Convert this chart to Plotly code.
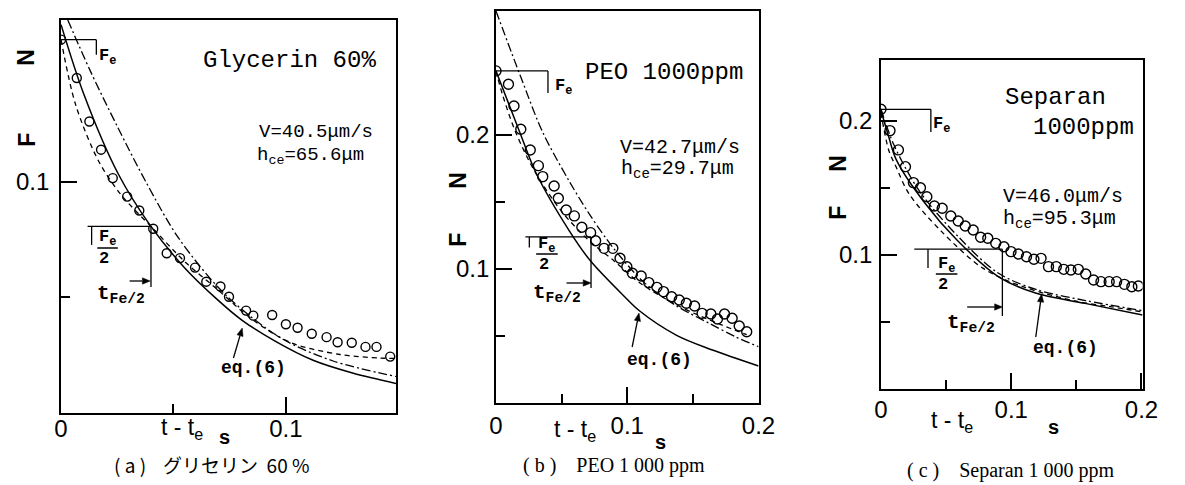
import math
import plotly.graph_objects as go

# The page body has an 8px margin, so the figure is drawn 8px in from the corner.
OX, OY = 8, 8
FW, FH = 1177, 477

# ---------------- data ----------------
# (a) Glycerin 60 %
a_t = [0.0, 0.0070, 0.0126, 0.0178, 0.0230, 0.0294, 0.0348, 0.0410, 0.0470, 0.0529,
       0.0596, 0.0646, 0.0709, 0.0747, 0.0823, 0.0855, 0.0939, 0.1000, 0.1052, 0.1115,
       0.1181, 0.1230, 0.1293, 0.1354, 0.1403, 0.1464]
a_F = [0.1615, 0.1449, 0.1261, 0.1139, 0.1016, 0.0936, 0.0876, 0.0797, 0.0691, 0.0670,
       0.0629, 0.0568, 0.0547, 0.0503, 0.0443, 0.0421, 0.0424, 0.0384, 0.0369, 0.0343,
       0.0328, 0.0306, 0.0304, 0.0286, 0.0286, 0.0244]
a_eq6_t = [0.0, 0.0101, 0.0254, 0.0395, 0.0545, 0.0688, 0.0804, 0.0950, 0.1121, 0.1300, 0.149]
a_eq6_F = [0.168, 0.1380, 0.1035, 0.0814, 0.0633, 0.0497, 0.0402, 0.0312, 0.0228, 0.0172, 0.0128]
a_dd_t = [0.003, 0.0130, 0.0250, 0.0380, 0.0524, 0.0732, 0.0977, 0.1210, 0.1490]
a_dd_F = [0.170, 0.1480, 0.1240, 0.0995, 0.0755, 0.0511, 0.0325, 0.0225, 0.0158]
a_da_t = [0.0, 0.0065, 0.0168, 0.0267, 0.0410, 0.0550, 0.0689, 0.0850, 0.1020, 0.1240, 0.1416, 0.1490]
a_da_F = [0.1615, 0.1333, 0.1088, 0.0944, 0.0797, 0.0655, 0.0540, 0.0405, 0.0305, 0.0253, 0.0238, 0.0236]

# (b) PEO 1000 ppm
b_t = [0.0, 0.0095, 0.0137, 0.0189, 0.0261, 0.0323, 0.0356, 0.0443, 0.0475, 0.0535,
       0.0597, 0.0654, 0.0721, 0.0759, 0.0823, 0.0890, 0.0945, 0.0997, 0.1039, 0.1106,
       0.1164, 0.1226, 0.1276, 0.1338, 0.1396, 0.1450, 0.1513, 0.1570, 0.1637, 0.1687,
       0.1741, 0.1799, 0.1853, 0.1910]
b_F = [0.2478, 0.2378, 0.2216, 0.2043, 0.1888, 0.1771, 0.1689, 0.1619, 0.1528, 0.1440,
       0.1396, 0.1311, 0.1271, 0.1211, 0.1154, 0.1154, 0.1080, 0.1017, 0.0968, 0.0948,
       0.0898, 0.0863, 0.0831, 0.0793, 0.0769, 0.0744, 0.0724, 0.0669, 0.0664, 0.0627,
       0.0664, 0.0632, 0.0575, 0.0532]
b_eq6_t = [0.0, 0.0181, 0.0306, 0.0555, 0.0716, 0.0978, 0.1090, 0.1376, 0.1650, 0.2000]
b_eq6_F = [0.2478, 0.2020, 0.1714, 0.1290, 0.1065, 0.0795, 0.0690, 0.0505, 0.0395, 0.0276]
b_dd_t = [0.0, 0.0207, 0.0356, 0.0555, 0.0704, 0.0841, 0.0928, 0.1127, 0.1375, 0.1624, 0.1823, 0.2000]
b_dd_F = [0.2925, 0.2386, 0.2020, 0.1660, 0.1420, 0.1225, 0.1115, 0.0900, 0.0725, 0.0595, 0.0495, 0.0420]
b_da_t = [0.0, 0.0050, 0.0150, 0.0300, 0.0500, 0.0700, 0.0900, 0.1100, 0.1400, 0.1700, 0.1910]
b_da_F = [0.2478, 0.2300, 0.2020, 0.1720, 0.1430, 0.1220, 0.1060, 0.0893, 0.0720, 0.0590, 0.0510]

# (c) Separan 1000 ppm
c_t = [0.0, 0.0069, 0.0134, 0.0188, 0.0249, 0.0303, 0.0352, 0.0410, 0.0470, 0.0536,
       0.0593, 0.0647, 0.0708, 0.0765, 0.0820, 0.0881, 0.0944, 0.0998, 0.1055, 0.1117,
       0.1174, 0.1229, 0.1286, 0.1346, 0.1403, 0.1458, 0.1515, 0.1572, 0.1632, 0.1689,
       0.1752, 0.1809, 0.1869, 0.1926, 0.1976]
c_F = [0.2087, 0.1928, 0.1784, 0.1659, 0.1540, 0.1502, 0.1435, 0.1366, 0.1349, 0.1291,
       0.1254, 0.1216, 0.1187, 0.1132, 0.1125, 0.1087, 0.1062, 0.1025, 0.1007, 0.0987,
       0.0968, 0.0975, 0.0913, 0.0913, 0.0893, 0.0888, 0.0893, 0.0858, 0.0813, 0.0801,
       0.0801, 0.0801, 0.0781, 0.0763, 0.0769]
c_eq6_t = [0.0, 0.0060, 0.0118, 0.0338, 0.0585, 0.0906, 0.1192, 0.1567, 0.2008]
c_eq6_F = [0.208, 0.188, 0.171, 0.1386, 0.1110, 0.0835, 0.0714, 0.0639, 0.0552]
c_dd_t = [0.0, 0.0100, 0.0300, 0.0600, 0.0900, 0.1200, 0.1570, 0.2008]
c_dd_F = [0.209, 0.182, 0.147, 0.113, 0.0865, 0.0740, 0.0660, 0.0585]
c_da_t = [0.0, 0.0060, 0.0115, 0.0213, 0.0460, 0.0785, 0.1100, 0.1500, 0.1760, 0.2008]
c_da_F = [0.206, 0.178, 0.166, 0.146, 0.118, 0.0900, 0.0760, 0.0655, 0.0615, 0.0575]

# labels
labels = {
    "a": dict(title="Glycerin 60%", V="V=40.5μm/s", h="h<sub>ce</sub>=65.6μm",
              caption="( a )    グリセリン  60 %"),
    "b": dict(title="PEO 1000ppm", V="V=42.7μm/s", h="h<sub>ce</sub>=29.7μm",
              caption="( b )    PEO 1 000 ppm"),
    "c": dict(title="Separan", title2="1000ppm", V="V=46.0μm/s", h="h<sub>ce</sub>=95.3μm",
              caption="( c )    Separan 1 000 ppm"),
}

MONO = "Liberation Mono"
SANS = "Liberation Sans"
SERIF = "Liberation Serif"
BLK = "black"


def P(px, py):
    return (px - OX) / FW, 1 - (py - OY) / FH


def xdom(p0, p1):
    return [(p0 - OX) / FW, (p1 - OX) / FW]


def ydom(pb, pt):
    return [1 - (pb - OY) / FH, 1 - (pt - OY) / FH]


fig = go.Figure()

panels = [
    ("x", "y", a_t, a_F, a_eq6_t, a_eq6_F, a_dd_t, a_dd_F, a_da_t, a_da_F, 9),
    ("x2", "y2", b_t, b_F, b_eq6_t, b_eq6_F, b_dd_t, b_dd_F, b_da_t, b_da_F, 10),
    ("x3", "y3", c_t, c_F, c_eq6_t, c_eq6_F, c_dd_t, c_dd_F, c_da_t, c_da_F, 10),
]
for xr, yr, t, F, et, eF, dt, dF, st, sF, ms in panels:
    fig.add_trace(go.Scatter(x=st, y=sF, xaxis=xr, yaxis=yr, mode="lines",
                             line=dict(color=BLK, width=1.3, dash="5px,4px", shape="spline", smoothing=0.9),
                             showlegend=False, hoverinfo="skip"))
    fig.add_trace(go.Scatter(x=dt, y=dF, xaxis=xr, yaxis=yr, mode="lines",
                             line=dict(color=BLK, width=1.3, dash="9px,3px,2px,3px", shape="spline", smoothing=0.9),
                             showlegend=False, hoverinfo="skip"))
    fig.add_trace(go.Scatter(x=et, y=eF, xaxis=xr, yaxis=yr, mode="lines",
                             line=dict(color=BLK, width=1.5, shape="spline", smoothing=0.9),
                             showlegend=False, hoverinfo="skip"))
    fig.add_trace(go.Scatter(x=t, y=F, xaxis=xr, yaxis=yr, mode="markers",
                             marker=dict(symbol="circle-open", size=ms, color=BLK, line=dict(width=1.4, color=BLK)),
                             showlegend=False, hoverinfo="skip"))


def axis(domain, rng, tickvals, ticktext, minor, standoff, anchor):
    return dict(domain=domain, range=rng, anchor=anchor, showline=True, mirror=True,
                linecolor=BLK, linewidth=1.8, showgrid=False, zeroline=False,
                ticks="inside", ticklen=16, tickwidth=1.5, tickcolor=BLK,
                tickmode="array", tickvals=tickvals, ticktext=ticktext,
                tickfont=dict(family=SANS, size=24, color=BLK),
                ticklabelstandoff=standoff,
                minor=dict(tickmode="array", tickvals=minor, ticks="inside", ticklen=9,
                           tickwidth=1.5, tickcolor=BLK, showgrid=False))


fig.update_layout(
    width=FW, height=FH, margin=dict(l=0, r=0, t=0, b=0),
    paper_bgcolor="white", plot_bgcolor="white",
    xaxis=axis(xdom(55, 397), [0, 0.149], [0, 0.1], ["0", "0.1"], [0.05], -7, "y"),
    yaxis=axis(ydom(413, 20), [0, 0.170], [0.1], ["0.1"], [0.05], 5, "x"),
    xaxis2=axis(xdom(499, 767), [0, 0.2], [0, 0.1, 0.2], ["0", "0.1", "0.2"], [0.05, 0.15], 0, "y2"),
    yaxis2=axis(ydom(403, 11), [0, 0.2925], [0.1, 0.2], ["0.1", "0.2"], [0.05, 0.15], 0, "x2"),
    xaxis3=axis(xdom(892, 1159), [0, 0.2008], [0, 0.1, 0.2], ["0", "0.1", "0.2"], [0.05, 0.15], -2, "y3"),
    yaxis3=axis(ydom(389, 60), [0, 0.2455], [0.1, 0.2], ["0.1", "0.2"], [0.05, 0.15], 2, "x3"),
)

shapes = []
annots = []


def seg(xr, yr, x0, y0, x1, y1, w=1.3):
    shapes.append(dict(type="line", xref=xr, yref=yr, x0=x0, y0=y0, x1=x1, y1=y1,
                       line=dict(color=BLK, width=w)))


def parrow(tx, ty, hx, hy, head=8, half=3.2):
    """Arrow drawn as a line plus a filled head, in page pixels."""
    L = math.hypot(hx - tx, hy - ty)
    ux, uy = (hx - tx) / L, (hy - ty) / L
    bx, by = hx - ux * head, hy - uy * head
    nx, ny = -uy, ux
    x0, y0 = P(tx, ty)
    x1, y1 = P(bx, by)
    shapes.append(dict(type="line", xref="paper", yref="paper", x0=x0, y0=y0, x1=x1, y1=y1,
                       line=dict(color=BLK, width=1.3)))
    pts = [P(hx, hy), P(bx + nx * half, by + ny * half), P(bx - nx * half, by - ny * half)]
    path = "M {} {} L {} {} L {} {} Z".format(pts[0][0], pts[0][1], pts[1][0], pts[1][1],
                                            pts[2][0], pts[2][1])
    shapes.append(dict(type="path", xref="paper", yref="paper", path=path,
                       fillcolor=BLK, line=dict(color=BLK, width=0.5)))


def txt(px, py, text, size, family=MONO, xanchor="left", angle=0, bold=False):
    x, y = P(px, py)
    if bold:
        text = "<b>" + text + "</b>"
    annots.append(dict(xref="paper", yref="paper", x=x, y=y, text=text, showarrow=False,
                       xanchor=xanchor, yanchor="middle", textangle=angle,
                       font=dict(family=family, size=size, color=BLK)))


def pline(px0, py0, px1, py1, w=1.3):
    x0, y0 = P(px0, py0)
    x1, y1 = P(px1, py1)
    shapes.append(dict(type="line", xref="paper", yref="paper", x0=x0, y0=y0, x1=x1, y1=y1,
                       line=dict(color=BLK, width=w)))


# ---- (a) markers ----
F0 = a_F[0]
seg("x", "y", a_t[0], F0, 0.0157, F0)
seg("x", "y", 0.0157, F0, 0.0157, 0.155)
seg("x", "y", 0.0118, F0 / 2, 0.040, F0 / 2)
seg("x", "y", 0.040, F0 / 2, 0.040, 0.0545)
seg("x", "y", 0.0136, F0 / 2, 0.0136, 0.0727)
parrow(125, 281, 146, 281)
parrow(231, 358, 240, 328)
# ---- (b) markers ----
F0 = b_F[0]
seg("x2", "y2", b_t[0], F0, 0.0396, F0)
seg("x2", "y2", 0.0396, F0, 0.0396, 0.2313)
seg("x2", "y2", 0.0224, F0 / 2, 0.0724, F0 / 2)
seg("x2", "y2", 0.0724, F0 / 2, 0.0724, 0.0858)
seg("x2", "y2", 0.0254, F0 / 2, 0.0254, 0.116)
parrow(571, 283, 596, 283)
parrow(638, 347, 645, 313)
# ---- (c) markers ----
F0 = c_F[0]
seg("x3", "y3", c_t[0], F0, 0.0383, F0)
seg("x3", "y3", 0.0383, F0, 0.0383, 0.1918)
seg("x3", "y3", 0.0256, F0 / 2, 0.0932, F0 / 2)
seg("x3", "y3", 0.0932, F0 / 2, 0.0932, 0.0545)
seg("x3", "y3", 0.0361, F0 / 2, 0.0361, 0.0903)
parrow(980, 307, 1016, 307)
parrow(1050, 337, 1056, 294)

# ---- texts (a) ----
La, Lb, Lc = labels["a"], labels["b"], labels["c"]
txt(198, 60, La["title"], 24)
txt(255, 132, La["V"], 19)
txt(253, 156, La["h"], 19)
txt(92, 57, "F<sub>e</sub>", 17, bold=True)
txt(92, 238, "F<sub>e</sub>", 17, bold=True)
pline(92, 248, 113, 248, 1.5)
txt(99, 259, "2", 17, xanchor="center", bold=True)
txt(90, 294, "t<sub>Fe/2</sub>", 21, bold=True)
txt(251, 368, "eq.(6)", 18, xanchor="center", bold=True)
txt(19, 57, "N", 23, family=SANS, xanchor="center", angle=-90, bold=True)
txt(20, 140, "F", 23, family=SANS, xanchor="center", angle=-90, bold=True)
txt(155, 428, "t - t<sub>e</sub>", 23, family=SANS)
txt(222, 437, "s", 20, family=SANS, xanchor="center", bold=True)
txt(107, 464, La["caption"], 19, family="Noto Sans CJK JP")

# ---- texts (b) ----
txt(588, 72, Lb["title"], 24)
txt(624, 147, Lb["V"], 20)
txt(625, 170, Lb["h"], 20)
txt(557, 87, "F<sub>e</sub>", 17, bold=True)
txt(540, 245, "F<sub>e</sub>", 17, bold=True)
pline(540, 254, 562, 254, 1.5)
txt(548, 264, "2", 17, xanchor="center", bold=True)
txt(535, 293, "t<sub>Fe/2</sub>", 21, bold=True)
txt(666, 360, "eq.(6)", 18, xanchor="center", bold=True)
txt(460, 180, "N", 23, family=SANS, xanchor="center", angle=-90, bold=True)
txt(460, 240, "F", 23, family=SANS, xanchor="center", angle=-90, bold=True)
txt(556, 430, "t - t<sub>e</sub>", 23, family=SANS)
txt(667, 442, "s", 20, family=SANS, xanchor="center", bold=True)
txt(525, 465, Lb["caption"], 20, family=SERIF)

# ---- texts (c) ----
txt(1017, 97, Lc["title"], 24)
txt(1045, 127, Lc["title2"], 24)
txt(1015, 196, Lc["V"], 20)
txt(1015, 219, Lc["h"], 20)
txt(943, 125, "F<sub>e</sub>", 17, bold=True)
txt(948, 265, "F<sub>e</sub>", 17, bold=True)
pline(948, 274, 970, 274, 1.5)
txt(955, 284, "2", 17, xanchor="center", bold=True)
txt(957, 323, "t<sub>Fe/2</sub>", 21, bold=True)
txt(1080, 348, "eq.(6)", 18, xanchor="center", bold=True)
txt(848, 163, "N", 23, family=SANS, xanchor="center", angle=-90, bold=True)
txt(848, 213, "F", 23, family=SANS, xanchor="center", angle=-90, bold=True)
txt(941, 421, "t - t<sub>e</sub>", 23, family=SANS)
txt(1068, 427, "s", 20, family=SANS, xanchor="center", bold=True)
txt(917, 470, Lc["caption"], 20, family=SERIF)

fig.update_layout(shapes=shapes, annotations=annots)
fig.write_html("out.html")
